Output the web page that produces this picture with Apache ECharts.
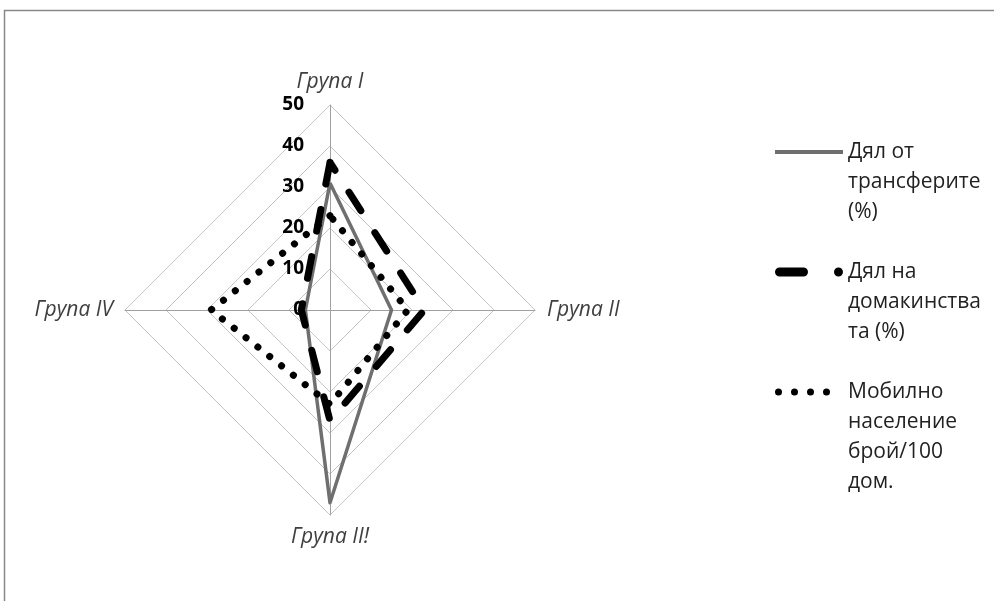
<!DOCTYPE html>
<html>
<head>
<meta charset="utf-8">
<script src="https://cdn.jsdelivr.net/npm/echarts@6/dist/echarts.min.js"></script>
<style>
  html, body { margin: 0; padding: 0; background: #fff; }
  #main { width: 994px; height: 601px; }
</style>
</head>
<body>
<div id="main"></div>
<script>
// radar goes counter-clockwise from the top: I, IV, III, II
const groups = ['Група I', 'Група IV', 'Група II!', 'Група II']
const transfers = [31, 6, 47, 15]
const households = [36, 7, 27, 23]
const mobile = [23, 29, 23, 19]

const seriesNames = ['Дял от трансферите (%)', 'Дял на домакинствата (%)', 'Мобилно население брой/100 дом.']
const legendLines = [
  ['Дял от', 'трансферите', '(%)'],
  ['Дял на', 'домакинства', 'та (%)'],
  ['Мобилно', 'население', 'брой/100', 'дом.']
]

const font = '"Open Sans", "Noto Sans", sans-serif'
const lh = 30

// legend icons drawn as paths (dash + dot, four dots)
const dashIcon = 'path://M4.5,0 L28.5,0 A4.5,4.5 0 0 1 28.5,9 L4.5,9 A4.5,4.5 0 0 1 4.5,0 Z ' +
  'M63.5,0 A4.5,4.5 0 0 1 63.5,9 A4.5,4.5 0 0 1 63.5,0 Z'
const dotIcon = 'path://M0,3.5 A3.5,3.5 0 1 1 7,3.5 A3.5,3.5 0 1 1 0,3.5 Z ' +
  'M16,3.5 A3.5,3.5 0 1 1 23,3.5 A3.5,3.5 0 1 1 16,3.5 Z ' +
  'M32,3.5 A3.5,3.5 0 1 1 39,3.5 A3.5,3.5 0 1 1 32,3.5 Z ' +
  'M48,3.5 A3.5,3.5 0 1 1 55,3.5 A3.5,3.5 0 1 1 48,3.5 Z M68,3.5 L68,3.5'

const makeLegend = function (idx, top, icon, h) {
  const lines = legendLines[idx]
  return {
    orient: 'vertical',
    left: 775,
    top: top,
    padding: 0,
    itemWidth: 68,
    itemHeight: h,
    selectedMode: false,
    itemStyle: { borderWidth: 0 },
    data: [{ name: seriesNames[idx], icon: icon }],
    // blank lines in front so the first real line sits next to the icon
    formatter: () => '\n'.repeat(lines.length - 1) + lines.join('\n'),
    textStyle: {
      fontFamily: font,
      fontSize: 21,
      lineHeight: lh,
      color: '#222'
    }
  }
}

const myChart = echarts.init(document.getElementById('main'))
myChart.setOption({
  animation: false,
  graphic: [{
    type: 'rect',
    shape: { x: 4.5, y: 10.5, width: 1000, height: 600 },
    style: { fill: 'none', stroke: '#888', lineWidth: 1.5 }
  }],
  legend: [
    makeLegend(0, 152 - 75, 'rect', 4),
    makeLegend(1, 272 - 75, dashIcon, 9),
    makeLegend(2, 392 - 105, dotIcon, 7)
  ],
  radar: {
    center: [330, 310],
    radius: 205,
    shape: 'polygon',
    splitNumber: 5,
    axisName: {
      color: '#404040',
      fontStyle: 'italic',
      fontSize: 21,
      fontFamily: font
    },
    nameGap: 12,
    axisLine: { lineStyle: { color: '#a0a0a0', width: 1 } },
    splitLine: { lineStyle: { color: '#c4c4c4', width: 1 } },
    splitArea: { show: false },
    axisTick: { show: false },
    axisLabel: { show: false },
    indicator: groups.map((g, i) => {
      const ind = { name: g, min: 0, max: 50 }
      if (i === 0) {
        ind.axisLabel = {
          show: true,
          margin: 26,
          color: '#000',
          fontWeight: 'bold',
          fontSize: 19,
          fontFamily: font
        }
      }
      return ind
    })
  },
  series: [
    {
      type: 'radar',
      symbol: 'none',
      itemStyle: { color: '#6f6f6f' },
      lineStyle: { color: '#6f6f6f', width: 3.5 },
      data: [{ name: seriesNames[0], value: transfers }]
    },
    {
      type: 'radar',
      symbol: 'none',
      itemStyle: { color: '#000' },
      lineStyle: { color: '#000', width: 7, type: [22, 26], cap: 'round' },
      data: [{ name: seriesNames[1], value: households }]
    },
    {
      type: 'radar',
      symbol: 'none',
      itemStyle: { color: '#000' },
      lineStyle: { color: '#000', width: 7, type: [0.1, 15], cap: 'round' },
      data: [{ name: seriesNames[2], value: mobile }]
    }
  ]
})
</script>
</body>
</html>
